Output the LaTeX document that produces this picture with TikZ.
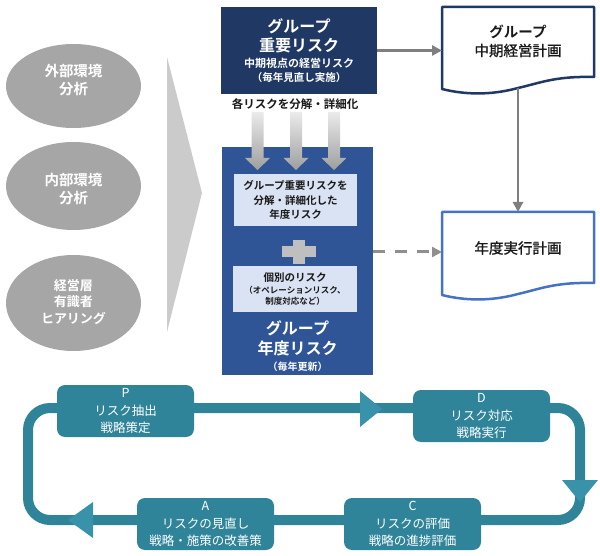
\documentclass[tikz,border=0pt]{standalone}
\usepackage{fontspec}
\setmainfont{Noto Sans CJK JP}[BoldFont={Noto Sans CJK JP Bold}]
\newfontfamily\jpmed{Noto Sans CJK JP}[FakeBold=1.2]
\usetikzlibrary{arrows.meta,shapes.geometric}
\definecolor{navy}{HTML}{1F3864}
\definecolor{midblue}{HTML}{2F5597}
\definecolor{paleblue}{HTML}{DAE3F3}
\definecolor{docblue}{HTML}{4472C4}
\definecolor{ellgray}{HTML}{A6A6A6}
\definecolor{trigray}{HTML}{CBCBCB}
\definecolor{plusgray}{HTML}{BFBFBF}
\definecolor{arrgray}{HTML}{7F7F7F}
\definecolor{dashgray}{HTML}{8F8F8F}
\definecolor{tealbox}{HTML}{2F8499}
\definecolor{tealhead}{HTML}{3892AA}
\newcommand{\fs}[2]{\fontsize{#1}{#2}\selectfont}
\tikzset{
  every node/.style={inner sep=0pt, outer sep=0pt, align=center},
  ellnode/.style={ellipse, fill=ellgray, minimum width=135pt, text=white, font=\bfseries},
  wtext/.style={text=white, font=\bfseries},
  btext/.style={text=black!90, font=\bfseries},
  ntext/.style={text=black!90},
  innerbox/.style={fill=paleblue},
  pdcabox/.style={fill=tealbox, rounded corners=8pt, minimum width=137pt, minimum height=52pt},
  pdcatext/.style={text=white, font=\fs{12.5}{17.5}},
  grayarrow/.style={draw=arrgray, line width=2.5pt, -{Triangle[length=10pt,width=10pt]}},
  dasharrow/.style={draw=dashgray, line width=3pt, dash pattern=on 12pt off 10pt, -{Triangle[length=10pt,width=10pt]}},
  loopline/.style={draw=tealbox, line width=10pt, rounded corners=22pt},
}
\begin{document}
\begin{tikzpicture}[x=1pt,y=-1pt]
\useasboundingbox (0,0) rectangle (600,556);

% left ellipses
\node[ellnode, minimum height=84pt] (ext) at (73.5,86) {};
\node[wtext, font=\bfseries\fs{14.5}{18}] (extt) at (73.5,80) {外部環境\\分析};
\node[ellnode, minimum height=88pt] (int) at (73.5,186) {};
\node[wtext, font=\bfseries\fs{14.5}{18}] (intt) at (73.5,189) {内部環境\\分析};
\node[ellnode, minimum height=96pt] (hear) at (73.5,303) {};
\node[wtext, font=\bfseries\fs{13}{16.5}] (heart) at (73.5,302) {経営層\\有識者\\ヒアリング};

% big triangle
\fill[trigray] (167,57) -- (202,193) -- (167,332) -- cycle;

% top box
\node[fill=navy, minimum width=156pt, minimum height=87pt] (top) at (299,50.5) {};
\node[wtext, font=\bfseries\fs{16}{16}] (t1) at (299,26) {グループ};
\node[wtext, font=\bfseries\fs{16}{16}] (t2) at (299,45) {重要リスク};
\node[wtext, font=\bfseries\fs{11}{11}] (t3) at (299,63) {中期視点の経営リスク};
\node[wtext, font=\bfseries\fs{10.5}{10.5}] (t4) at (299,77.5) {（毎年見直し実施）};

\node[btext, font=\bfseries\fs{11.5}{11.5}] (decomp) at (295,104) {各リスクを分解・詳細化};

% lower box
\node[fill=midblue, minimum width=151pt, minimum height=228pt] (low) at (297.5,261) {};
\node[innerbox, minimum width=123pt, minimum height=52pt] (in1) at (295.5,200) {};
\node[btext, font=\bfseries\fs{10.5}{14.5}] (in1t) at (295.5,200) {グループ重要リスクを\\分解・詳細化した\\年度リスク};
\node[innerbox, minimum width=124pt, minimum height=46pt] (in2) at (295,289) {};
\node[btext, font=\bfseries\fs{10.5}{10.5}] (in2a) at (295,278) {個別のリスク};
\node[btext, font=\bfseries\fs{8.5}{11}] (in2b) at (295,295.5) {（オペレーションリスク、\\制度対応など）};
\node[wtext, font=\bfseries\fs{16}{16}] (b1) at (297.5,328) {グループ};
\node[wtext, font=\bfseries\fs{16}{16}] (b2) at (297.5,348) {年度リスク};
\node[wtext, font=\bfseries\fs{10}{10}] (b3) at (297.5,367) {（毎年更新）};

% plus sign
\fill[plusgray] (282,246.5) rectangle (316,257.5);
\fill[plusgray] (293,240) rectangle (305,264);

% gradient arrows
\foreach \cx in {257.5,296,334}{
  \shade[top color=black!8, bottom color=black!38]
    (\cx-6,112) -- (\cx+6,112) -- (\cx+6,158) -- (\cx+12.5,158) -- (\cx,170)
    -- (\cx-12.5,158) -- (\cx-6,158) -- cycle;
}

% documents
\node[minimum width=152pt, minimum height=82pt] (doc1) at (518,48) {};
\draw[navy, line width=2.5pt, line join=round]
  (442,7) -- (594,7) -- (594,77) .. controls (555,76) and (540,83) .. (518,88)
  .. controls (496,94) and (470,96) .. (442,89) -- cycle;
\node[btext, font=\bfseries\fs{14.5}{14.5}] (doc1a) at (518,32) {グループ};
\node[ntext, font=\jpmed\fs{14.5}{14.5}] (doc1b) at (518,50.5) {中期経営計画};

\node[minimum width=152pt, minimum height=82pt] (doc2) at (518,253) {};
\draw[docblue, line width=2.5pt, line join=round]
  (442,212) -- (594,212) -- (594,283) .. controls (555,282) and (540,289) .. (518,294)
  .. controls (496,300) and (470,302) .. (442,295) -- cycle;
\node[ntext, font=\jpmed\fs{14.5}{14.5}] (doc2t) at (518,248) {年度実行計画};

\coordinate (d1b) at (518,88.5);
\draw[grayarrow] (top.east) -- (top.east -| doc1.west);
\draw[grayarrow] (d1b) -- (doc2.north);
\draw[dasharrow] (low.east |- 0,252) -- (doc2.west |- 0,252);

% PDCA loop
\coordinate (topmid) at (300,408);
\coordinate (tr) at (580,408);
\coordinate (br) at (580,520);
\coordinate (bl) at (28,520);
\coordinate (tl) at (28,408);
\draw[loopline] (topmid) -- (tr) -- (br) -- (bl) -- (tl) -- cycle;

\fill[tealhead] (360,391) -- (382,409) -- (360,427) -- cycle;
\fill[tealhead] (562,480) -- (598,480) -- (580,502) -- cycle;
\fill[tealhead] (93,502) -- (68,520) -- (93,538) -- cycle;

\node[pdcabox] (P) at (125.5,411) {};
\node[pdcatext] (Pt) at (125.5,411) {P\\リスク抽出\\戦略策定};
\node[pdcabox] (D) at (481.5,416) {};
\node[pdcatext] (Dt) at (481.5,416) {D\\リスク対応\\戦略実行};
\node[pdcabox] (C) at (412.5,524) {};
\node[pdcatext] (Ct) at (412.5,524) {C\\リスクの評価\\戦略の進捗評価};
\node[pdcabox] (A) at (205.5,524) {};
\node[pdcatext] (At) at (205.5,524) {A\\リスクの見直し\\戦略・施策の改善策};
\end{tikzpicture}
\end{document}
